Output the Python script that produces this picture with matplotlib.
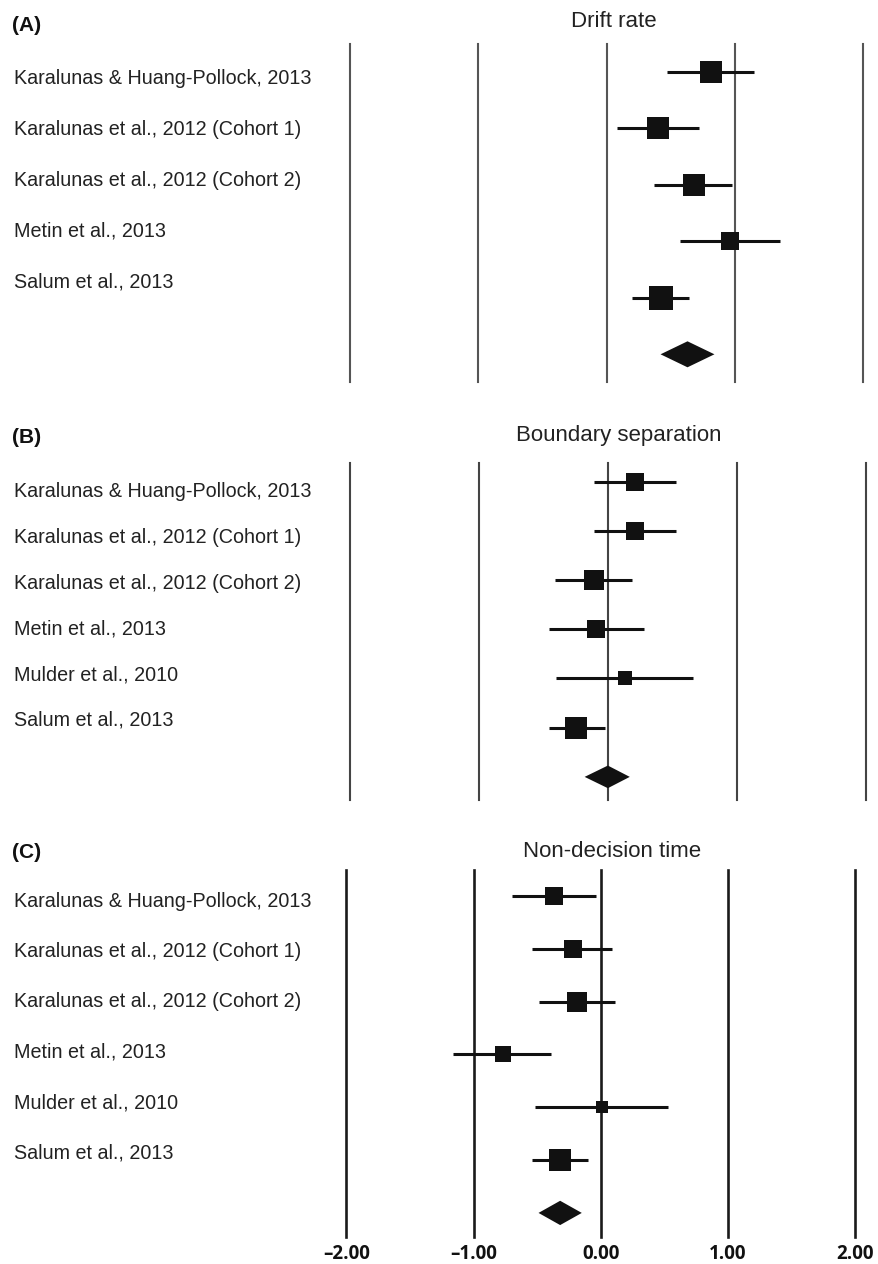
import numpy as np
import matplotlib
matplotlib.use("Agg")
import matplotlib.pyplot as plt

# study labels
studies_drift = ["Karalunas & Huang-Pollock, 2013",
                 "Karalunas et al., 2012 (Cohort 1)",
                 "Karalunas et al., 2012 (Cohort 2)",
                 "Metin et al., 2013",
                 "Salum et al., 2013"]
studies_other = ["Karalunas & Huang-Pollock, 2013",
                 "Karalunas et al., 2012 (Cohort 1)",
                 "Karalunas et al., 2012 (Cohort 2)",
                 "Metin et al., 2013",
                 "Mulder et al., 2010",
                 "Salum et al., 2013"]

# (A) drift rate
drift_est = [0.81, 0.40, 0.68, 0.96, 0.42]
drift_lo = [0.47, 0.08, 0.37, 0.57, 0.20]
drift_hi = [1.15, 0.72, 0.98, 1.35, 0.64]
drift_weight = [19.4, 18.9, 20.2, 15.4, 26.1]

# (B) boundary separation
bound_est = [0.21, 0.21, -0.11, -0.09, 0.13, -0.25]
bound_lo = [-0.11, -0.11, -0.41, -0.46, -0.40, -0.46]
bound_hi = [0.53, 0.53, 0.19, 0.28, 0.66, -0.02]
bound_weight = [16.4, 16.4, 18.1, 15.7, 8.8, 24.7]

# (C) non-decision time
ndt_est = [-0.37, -0.22, -0.19, -0.77, 0.01, -0.32]
ndt_lo = [-0.70, -0.54, -0.49, -1.16, -0.52, -0.54]
ndt_hi = [-0.04, 0.09, 0.11, -0.39, 0.53, -0.10]
ndt_weight = [15.9, 17.2, 18.5, 14.0, 8.4, 25.9]

# pooled estimates (diamonds), one per panel
pooled_est = [0.63, 0.00, -0.32]
pooled_lo = [0.42, -0.18, -0.49]
pooled_hi = [0.84, 0.17, -0.15]

panel_titles = ["Drift rate", "Boundary separation", "Non-decision time"]
panel_tags = ["(A)", "(B)", "(C)"]
ref_lines = [-2, -1, 0, 1, 2]
tick_labels = ["\u20132.00", "\u20131.00", "0.00", "1.00", "2.00"]

W, H = 879, 1264
fig = plt.figure(figsize=(W / 100, H / 100), dpi=100)


def px_box(left, top, right, bottom):
    return [left / W, 1 - bottom / H, (right - left) / W, (bottom - top) / H]


# layout in pixels for each panel
layouts = [
    dict(box=(350, 44, 863.3, 382), pad=(-0.49, 5.49), lab0=84, labstep=50.75,
         tag_y=30.7, title_x=613.5, title_y=26.7, maxbox=24.7, lcol="#555555", lw=1.5),
    dict(box=(350, 463.3, 865.7, 800), pad=(-0.374, 6.47), lab0=497.4, labstep=45.7,
         tag_y=443.3, title_x=618.5, title_y=440.7, maxbox=23.0, lcol="#444444", lw=1.5),
    dict(box=(346.5, 870, 855.2, 1236.7), pad=(-0.49, 6.45), lab0=906.7, labstep=50.35,
         tag_y=858, title_x=612, title_y=856.7, maxbox=22.8, lcol="#1a1a1a", lw=1.9),
]

panels = [
    (studies_drift, drift_est, drift_lo, drift_hi, drift_weight),
    (studies_other, bound_est, bound_lo, bound_hi, bound_weight),
    (studies_other, ndt_est, ndt_lo, ndt_hi, ndt_weight),
]

for k, (names, est, lo, hi, wt) in enumerate(panels):
    lay = layouts[k]
    ax = fig.add_axes(px_box(*lay["box"]))
    n = len(names)
    y = np.arange(n)

    for v in ref_lines:
        ax.axvline(v, color=lay["lcol"], lw=lay["lw"], zorder=1, clip_on=False)

    ax.hlines(y, lo, hi, color="#111111", lw=2.2, zorder=2)
    wt = np.array(wt)
    sides = lay["maxbox"] * np.sqrt(wt / wt.max())
    for i in range(n):
        ax.plot(est[i], y[i], marker="s", ms=sides[i] * 0.72, color="#111111",
                mec="#111111", mew=0, zorder=3)

    # pooled diamond
    yd = n
    hh = 0.23
    ax.fill([pooled_lo[k], pooled_est[k], pooled_hi[k], pooled_est[k]],
            [yd, yd - hh, yd, yd + hh], color="#111111", lw=0, zorder=3)

    ax.set_xlim(-2, 2)
    ax.set_ylim(lay["pad"][1], lay["pad"][0])
    for s in ax.spines.values():
        s.set_visible(False)
    ax.set_yticks([])
    if k == 2:
        ax.set_xticks(ref_lines)
        ax.set_xticklabels(tick_labels, fontfamily="Open Sans", fontweight="bold",
                           fontsize=13.5, color="#111111")
        ax.tick_params(axis="x", length=0, pad=5)
    else:
        ax.set_xticks([])

    # study labels on the left
    for i, name in enumerate(names):
        fig.text(14 / W, 1 - (lay["lab0"] + i * lay["labstep"]) / H, name,
                 fontfamily="Liberation Sans", fontsize=14.25, color="#222222",
                 ha="left", va="baseline")

    fig.text(12 / W, 1 - lay["tag_y"] / H, panel_tags[k], fontfamily="Liberation Sans",
             fontweight="bold", fontsize=15, color="#111111", ha="left", va="baseline")
    fig.text(lay["title_x"] / W, 1 - lay["title_y"] / H, panel_titles[k],
             fontfamily="Liberation Sans", fontsize=16, color="#222222",
             ha="center", va="baseline")

fig.savefig("out.png", dpi=100)
